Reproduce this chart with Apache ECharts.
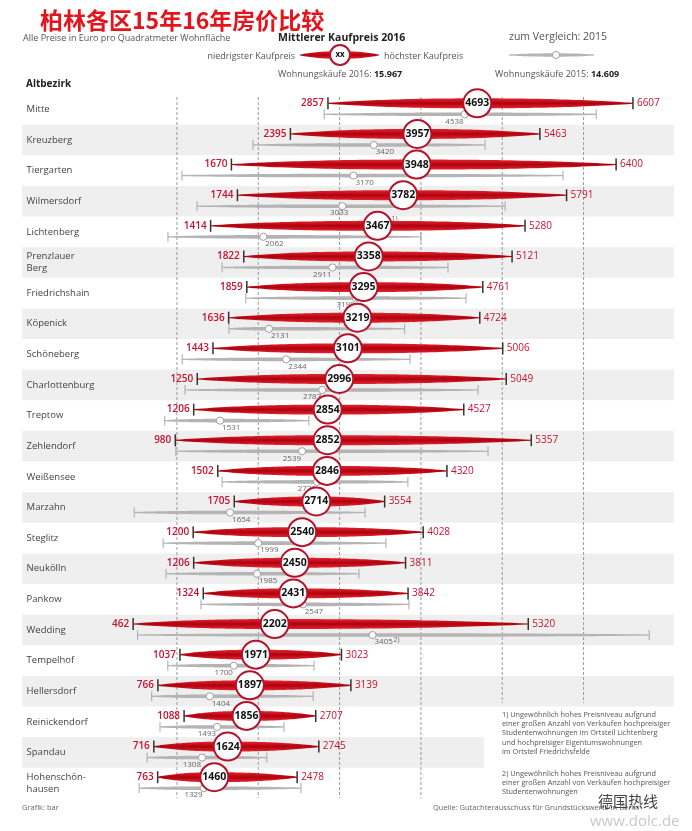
<!DOCTYPE html>
<html><head><meta charset="utf-8">
<script src="https://cdn.jsdelivr.net/npm/echarts@6/dist/echarts.min.js"></script>
<style>html,body{margin:0;padding:0;background:#fff}#c{width:692px;height:831px}</style>
</head><body><div id="c"></div>
<script>
// ---------------- data ----------------
const districts = ['Mitte','Kreuzberg','Tiergarten','Wilmersdorf','Lichtenberg','Prenzlauer\nBerg','Friedrichshain','Köpenick','Schöneberg','Charlottenburg','Treptow','Zehlendorf','Weißensee','Marzahn','Steglitz','Neukölln','Pankow','Wedding','Tempelhof','Hellersdorf','Reinickendorf','Spandau','Hohenschön-\nhausen'];
const min2016    = [2857,2395,1670,1744,1414,1822,1859,1636,1443,1250,1206, 980,1502,1705,1200,1206,1324, 462,1037, 766,1088, 716, 763];
const median2016 = [4693,3957,3948,3782,3467,3358,3295,3219,3101,2996,2854,2852,2846,2714,2540,2450,2431,2202,1971,1897,1856,1624,1460];
const max2016    = [6607,5463,6400,5791,5280,5121,4761,4724,5006,5049,4527,5357,4320,3554,4028,3811,3842,5320,3023,3139,2707,2745,2478];
const min2015    = [2810,1935,1062,1247, 890,1555,1847,1640,1065,1100, 850, 987,1555, 475, 830, 866,1296, 517, 888, 690, 792, 633, 535];
const median2015 = [4538,3420,3170,3033,2062,2911,3199,2131,2344,2787,1531,2539,2723,1654,1999,1985,2547,3405,1700,1404,1493,1308,1329];
const max2015    = [6155,4788,5747,5035,4000,4333,4555,3800,3866,4702,2623,4825,3840,3313,3570,3238,3853,6807,2686,2675,2317,2105,2525];
const note2016   = {4: '1)'};   // footnote marks on 2016 median
const note2015   = {17: '2)'};  // footnote marks on 2015 median
const gridValues = [1000,2000,3000,4000,5000,6000];
const sales2016 = '15.967', sales2015 = '14.609';

// ---------------- style (label placement of 2015 medians) ----------------
const side2015 = ['l','r','r','c','r','l','l','r','r','l','r','l','l','r','r','r','r','r','l','r','l','l','l'];

const FONT = '"Open Sans", "DejaVu Sans", sans-serif';
const RED = '#c8102e';

function prof(t){ return 1 - Math.pow(1 - t, 2.3); }
function spindlePts(x0, xm, x1, y, h, hmin, n){
  const top = [], bot = [];
  for (let i = 0; i <= n; i++) { const t = i / n; const x = x0 + (xm - x0) * t; const f = hmin + (h - hmin) * prof(t); top.push([x, y - f]); bot.push([x, y + f]); }
  for (let i = n - 1; i >= 0; i--) { const t = i / n; const x = x1 + (xm - x1) * t; const f = hmin + (h - hmin) * prof(t); top.push([x, y - f]); bot.push([x, y + f]); }
  return top.concat(bot.reverse());
}
function redGrad(){
  return new echarts.graphic.LinearGradient(0, 0, 0, 1, [
    {offset: 0, color: '#e3262e'}, {offset: 0.5, color: '#b0000f'}, {offset: 1, color: '#e3262e'}]);
}

const rows = districts.map((d, i) => [i, min2016[i], median2016[i], max2016[i], min2015[i], median2015[i], max2015[i]]);
const bandRows = districts.map((d, i) => i).filter(i => i % 2 === 1);

const chart = echarts.init(document.getElementById('c'), null, {renderer: 'canvas'});

const option = {
  animation: false,
  backgroundColor: '#fff',
  grid: {left: 95.6, right: 27.1, top: 94, bottom: 32.5, outerBoundsMode: 'none', containLabel: false},
  xAxis: {type: 'value', min: 0, max: 7000, show: false},
  yAxis: {
    type: 'category', data: districts, inverse: true, z: 20,
    axisLine: {show: false}, axisTick: {show: false}, splitLine: {show: false},
    axisLabel: {interval: 0, align: 'left', margin: 69, color: '#444', fontFamily: FONT, fontSize: 9.5, lineHeight: 12}
  },
  series: [
    { // alternating bands
      type: 'custom', z: 1, silent: true,
      data: bandRows.map(i => [0, i]),
      encode: {x: 0, y: 1},
      renderItem(params, api) {
        const i = api.value(1);
        const yc = api.coord([0, i])[1];
        const h = api.size([0, 1])[1];
        const right = yc > 740 ? 484 : 674;
        return {type: 'rect', shape: {x: 22, y: yc - h / 2, width: right - 22, height: h}, style: {fill: '#efefef'}};
      }
    },
    { // dashed reference lines
      type: 'custom', z: 2, silent: true,
      data: gridValues.map(v => [v, 0]),
      encode: {x: 0, y: 1},
      renderItem(params, api) {
        const x = api.coord([api.value(0), 0])[0];
        const yEnd = x > 495 ? 703 : 798;
        return {type: 'line', shape: {x1: x, y1: 97, x2: x, y2: yEnd},
          style: {stroke: '#9a9a9a', lineWidth: 1, lineDash: [3, 2]}};
      }
    },
    { // district rows
      type: 'custom', z: 3, silent: true,
      data: rows,
      encode: {x: [1, 2, 3, 4, 5, 6], y: 0},
      renderItem(params, api) {
        const i = api.value(0);
        const yc = api.coord([0, i])[1];
        const X = v => api.coord([v, i])[0];
        const yr = yc - 6, yg = yc + 5;
        const a = X(api.value(1)), m = X(api.value(2)), b = X(api.value(3));
        const ga = X(api.value(4)), gm = X(api.value(5)), gb = X(api.value(6));
        const ch = [];
        // 2015
        ch.push({type: 'polygon', shape: {points: spindlePts(ga, gm, gb, yg, 1.8, 0.6, 24)}, style: {fill: '#b4b4b4'}});
        ch.push({type: 'line', shape: {x1: ga, y1: yg - 5, x2: ga, y2: yg + 5}, style: {stroke: '#a8a8a8', lineWidth: 1}});
        ch.push({type: 'line', shape: {x1: gb, y1: yg - 5, x2: gb, y2: yg + 5}, style: {stroke: '#a8a8a8', lineWidth: 1}});
        ch.push({type: 'circle', shape: {cx: gm, cy: yg, r: 3.6}, style: {fill: '#fff', stroke: '#a0a0a0', lineWidth: 1}});
        const s = side2015[i];
        const gl = {type: 'text', x: s === 'l' ? gm - 1 : (s === 'r' ? gm + 2 : gm - 3), y: yg + 7,
          style: {text: String(median2015[i]), align: s === 'l' ? 'right' : (s === 'r' ? 'left' : 'center'), verticalAlign: 'middle',
            font: '8px ' + FONT, fill: '#666'}};
        ch.push(gl);
        if (note2015[i]) {
          ch.push({type: 'text', x: gm + 21, y: yg + 5, style: {text: note2015[i], align: 'left', verticalAlign: 'middle', font: '7px ' + FONT, fill: '#666'}});
        }
        // 2016
        ch.push({type: 'polygon', shape: {points: spindlePts(a, m, b, yr, 5, 0.5, 30)}, style: {fill: redGrad()}});
        ch.push({type: 'line', shape: {x1: a, y1: yr - 6, x2: a, y2: yr + 6}, style: {stroke: '#333', lineWidth: 1.5}});
        ch.push({type: 'line', shape: {x1: b, y1: yr - 6, x2: b, y2: yr + 6}, style: {stroke: '#333', lineWidth: 1.5}});
        ch.push({type: 'text', x: a - 4, y: yr, style: {text: String(min2016[i]), align: 'right', verticalAlign: 'middle', font: '600 10px ' + FONT, fill: RED}});
        ch.push({type: 'text', x: b + 4, y: yr, style: {text: String(max2016[i]), align: 'left', verticalAlign: 'middle', font: '10px ' + FONT, fill: RED}});
        ch.push({type: 'circle', shape: {cx: m, cy: yr, r: 14}, style: {fill: '#fff', stroke: '#b3132b', lineWidth: 2}});
        ch.push({type: 'text', x: m, y: yr, style: {text: String(median2016[i]), align: 'center', verticalAlign: 'middle', font: 'bold 10.5px ' + FONT, fill: '#111'}});
        if (note2016[i]) {
          ch.push({type: 'text', x: m + 14, y: yr - 7, style: {text: note2016[i], align: 'left', verticalAlign: 'middle', font: '7px ' + FONT, fill: '#666'}});
        }
        return {type: 'group', children: ch};
      }
    }
  ],
  graphic: [
    {type: 'text', x: 40, y: 20, style: {text: '柏林各区15年16年房价比较', font: 'bold 23px "Noto Sans CJK SC"', fill: '#e3141c', align: 'left', verticalAlign: 'middle'}},
    {type: 'text', x: 23, y: 38, style: {text: 'Alle Preise in Euro pro Quadratmeter Wohnfläche', font: '9px ' + FONT, fill: '#555', align: 'left', verticalAlign: 'middle'}},
    {type: 'text', x: 278, y: 38, style: {text: 'Mittlerer Kaufpreis 2016', font: 'bold 10.5px ' + FONT, fill: '#222', align: 'left', verticalAlign: 'middle'}},
    {type: 'text', x: 509, y: 37, style: {text: 'zum Vergleich: 2015', font: '10.5px ' + FONT, fill: '#555', align: 'left', verticalAlign: 'middle'}},
    {type: 'text', x: 295, y: 56, style: {text: 'niedrigster Kaufpreis', font: '9px ' + FONT, fill: '#555', align: 'right', verticalAlign: 'middle'}},
    {type: 'polygon', shape: {points: spindlePts(300, 340, 379, 55, 3.8, 0.5, 20)}, style: {fill: redGrad()}},
    {type: 'circle', shape: {cx: 340, cy: 55, r: 10}, style: {fill: '#fff', stroke: '#b3132b', lineWidth: 2}},
    {type: 'text', x: 340, y: 55, style: {text: 'xx', font: 'bold 8px ' + FONT, fill: '#111', align: 'center', verticalAlign: 'middle'}},
    {type: 'text', x: 384, y: 56, style: {text: 'höchster Kaufpreis', font: '9px ' + FONT, fill: '#555', align: 'left', verticalAlign: 'middle'}},
    {type: 'polygon', shape: {points: spindlePts(509, 556, 594, 55, 1.7, 0.5, 20)}, style: {fill: '#b4b4b4'}},
    {type: 'circle', shape: {cx: 556, cy: 55, r: 3.6}, style: {fill: '#fff', stroke: '#a0a0a0', lineWidth: 1}},
    {type: 'text', x: 278, y: 74, style: {text: '{a|Wohnungskäufe 2016: }{b|' + sales2016 + '}', align: 'left', verticalAlign: 'middle',
      rich: {a: {font: '9px ' + FONT, fill: '#555'}, b: {font: 'bold 9px ' + FONT, fill: '#222'}}}},
    {type: 'text', x: 495, y: 74, style: {text: '{a|Wohnungskäufe 2015: }{b|' + sales2015 + '}', align: 'left', verticalAlign: 'middle',
      rich: {a: {font: '9px ' + FONT, fill: '#555'}, b: {font: 'bold 9px ' + FONT, fill: '#222'}}}},
    {type: 'text', x: 26, y: 84, style: {text: 'Altbezirk', font: 'bold 10px ' + FONT, fill: '#222', align: 'left', verticalAlign: 'middle'}},
    {type: 'text', x: 502, y: 710, style: {text: '1) Ungewöhnlich hohes Preisniveau aufgrund\neiner großen Anzahl von Verkäufen hochpreisiger\nStudentenwohnungen im Ortsteil Lichtenberg\nund hochpreisiger Eigentumswohnungen\nim Ortsteil Friedrichsfelde',
      font: '7.3px ' + FONT, lineHeight: 9.3, fill: '#555', align: 'left', verticalAlign: 'top'}},
    {type: 'text', x: 502, y: 769, style: {text: '2) Ungewöhnlich hohes Preisniveau aufgrund\neiner großen Anzahl von Verkäufen hochpreisiger\nStudentenwohnungen',
      font: '7.3px ' + FONT, lineHeight: 9.3, fill: '#555', align: 'left', verticalAlign: 'top'}},
    {type: 'text', x: 22, y: 808, style: {text: 'Grafik: bar', font: '7.5px ' + FONT, fill: '#666', align: 'left', verticalAlign: 'middle'}},
    {type: 'text', x: 433, y: 808, style: {text: 'Quelle: Gutachterausschuss für Grundstückswerte in Berlin', font: '7.5px ' + FONT, fill: '#666', align: 'left', verticalAlign: 'middle'}},
    {type: 'text', x: 598, y: 801, style: {text: '德国热线', font: '15px "Noto Sans CJK SC"', fill: '#444', align: 'left', verticalAlign: 'middle'}},
    {type: 'text', x: 590, y: 822, style: {text: 'www.dolc.de', font: '15px ' + FONT, fill: '#c8c8d0', align: 'left', verticalAlign: 'middle'}}
  ]
};
chart.setOption(option);
</script>
</body></html>
